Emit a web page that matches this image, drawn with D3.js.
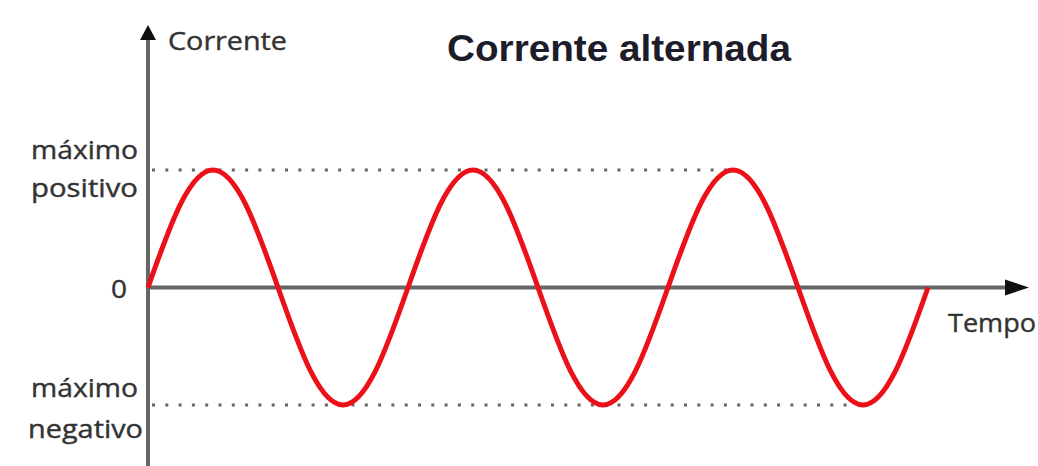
<!DOCTYPE html>
<html>
<head>
<meta charset="utf-8">
<script src="https://cdn.jsdelivr.net/npm/d3@7"></script>
<style>
  body { margin: 0; background: #fff; }
  text { font-family: "Open Sans", sans-serif; }
</style>
</head>
<body>
<div id="chart"></div>
<script>
// Chart set up
var svgWidth = 1038;
var svgHeight = 466;

// Data: time in periods, current relative to the peak
var tempo = [0, 0.125, 0.25, 0.375, 0.5, 0.625, 0.75, 0.875,
             1, 1.125, 1.25, 1.375, 1.5, 1.625, 1.75, 1.875,
             2, 2.125, 2.25, 2.375, 2.5, 2.625, 2.75, 2.875, 3];
var corrente = [0, 0.71, 1, 0.71, 0, -0.71, -1, -0.71,
                0, 0.71, 1, 0.71, 0, -0.71, -1, -0.71,
                0, 0.71, 1, 0.71, 0, -0.71, -1, -0.71, 0];
var yLabels = [
  {value: 1, lines: ["máximo", "positivo"]},
  {value: 0, lines: ["0"]},
  {value: -1, lines: ["máximo", "negativo"]}
];
var lastPeak = 2.25;
var lastTrough = 2.75;

var svg = d3.select("#chart")
  .append("svg")
  .attr("width", svgWidth)
  .attr("height", svgHeight);

// Scales
var xScale = d3.scaleLinear().domain([0, 3]).range([148, 928]);
var yScale = d3.scaleLinear().domain([-1, 1]).range([405, 170]);

var axisColor = "#666";

// Dotted guide lines for the peaks
svg.append("line")
  .attr("x1", xScale(0) + 4).attr("x2", xScale(lastPeak))
  .attr("y1", yScale(1)).attr("y2", yScale(1))
  .attr("stroke", "#666").attr("stroke-width", 3)
  .attr("stroke-dasharray", "3,10.3");

svg.append("line")
  .attr("x1", xScale(0) + 4).attr("x2", xScale(lastTrough) - 8)
  .attr("y1", yScale(-1)).attr("y2", yScale(-1))
  .attr("stroke", "#666").attr("stroke-width", 3)
  .attr("stroke-dasharray", "3,10.3");

// Axes with arrow heads
var x0 = xScale(0), y0 = yScale(0);

svg.append("line")
  .attr("x1", x0).attr("x2", x0)
  .attr("y1", svgHeight).attr("y2", 36)
  .attr("stroke", axisColor).attr("stroke-width", 4);

svg.append("path")
  .attr("d", `M${x0},25 L${x0 + 8},40 L${x0 - 8},40 Z`)
  .attr("fill", "#111");

svg.append("line")
  .attr("x1", x0 - 2).attr("x2", 1008)
  .attr("y1", y0).attr("y2", y0)
  .attr("stroke", axisColor).attr("stroke-width", 4);

svg.append("path")
  .attr("d", `M1029,${y0} L1005,${y0 - 8} L1005,${y0 + 8} Z`)
  .attr("fill", "#111");

// The wave
var line = d3.line()
  .x((d, i) => xScale(tempo[i]))
  .y(d => yScale(d))
  .curve(d3.curveNatural);

svg.append("path")
  .datum(corrente)
  .attr("d", line)
  .attr("fill", "none")
  .attr("stroke", "#ec1118")
  .attr("stroke-width", 5);

// Y labels
var labelOffsets = {"1": [-11, 27], "0": [10], "-1": [-8, 33]};
var labelWidths = {"máximo": 107, "positivo": 107, "negativo": 115, "0": 16};
var labelRight = {"máximo": 138, "positivo": 138, "negativo": 143, "0": 127};

yLabels.forEach(function(l) {
  l.lines.forEach(function(txt, i) {
    svg.append("text")
      .attr("x", labelRight[txt])
      .attr("y", yScale(l.value) + labelOffsets[String(l.value)][i])
      .attr("text-anchor", "end")
      .attr("textLength", labelWidths[txt])
      .attr("lengthAdjust", "spacingAndGlyphs")
      .attr("font-size", 25)
      .attr("fill", "#333")
      .attr("stroke", "#333").attr("stroke-width", 0.4)
      .text(txt);
  });
});

// Axis titles
svg.append("text")
  .attr("x", 168).attr("y", 50)
  .attr("textLength", 119)
  .attr("lengthAdjust", "spacingAndGlyphs")
  .attr("font-size", 25)
  .attr("fill", "#333")
  .attr("stroke", "#333").attr("stroke-width", 0.4)
  .text("Corrente");

svg.append("text")
  .attr("x", 948).attr("y", 332)
  .attr("textLength", 88)
  .attr("lengthAdjust", "spacingAndGlyphs")
  .attr("font-size", 25)
  .attr("fill", "#333")
  .attr("stroke", "#333").attr("stroke-width", 0.4)
  .text("Tempo");

// Chart title
svg.append("text")
  .attr("x", 447).attr("y", 61)
  .attr("textLength", 344)
  .attr("lengthAdjust", "spacingAndGlyphs")
  .style("font-family", "'Liberation Sans', Arial, sans-serif")
  .attr("font-weight", "bold")
  .attr("font-size", 36)
  .attr("fill", "#1c1c2a")
  .text("Corrente alternada");
</script>
</body>
</html>
